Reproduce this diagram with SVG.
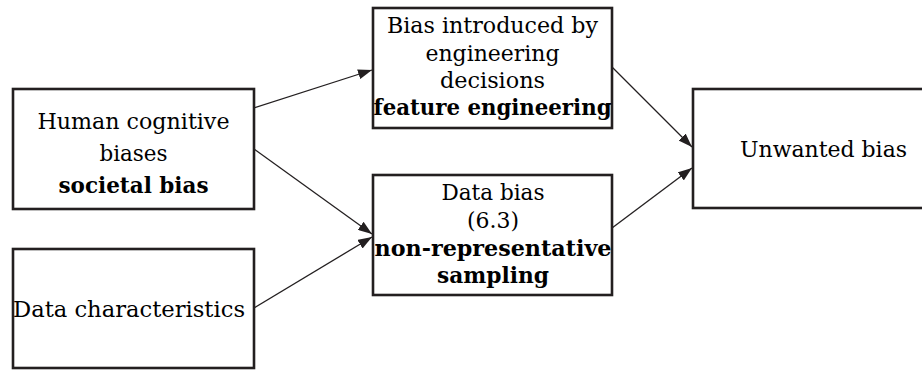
<svg xmlns="http://www.w3.org/2000/svg" width="922" height="372" viewBox="0 0 922 372">
<style>
.box{fill:#fff;stroke:#231f20;stroke-width:2.6}
.t{font-family:"DejaVu Serif Condensed","DejaVu Serif","Liberation Serif",serif;font-size:23px;fill:#000;text-anchor:middle}
.b{font-weight:bold}
.c{stroke:#231f20;stroke-width:1.3;fill:none;marker-end:url(#ah)}
</style>
<defs>
<marker id="ah" markerUnits="userSpaceOnUse" viewBox="0 0 14 10" refX="14" refY="5" markerWidth="14" markerHeight="10" orient="auto">
<path d="M0,0 L14,5 L0,10 Z" fill="#231f20"/>
</marker>
</defs>
<rect width="922" height="372" fill="#fff"/>
<g id="connectors">
<line class="c" x1="254" y1="108" x2="372" y2="70"/>
<line class="c" x1="254" y1="149" x2="372" y2="234"/>
<line class="c" x1="254" y1="308" x2="372" y2="237"/>
<line class="c" x1="612" y1="67" x2="692" y2="147"/>
<line class="c" x1="612" y1="228" x2="692" y2="168"/>
</g>
<g id="n1">
<rect class="box" x="13" y="89" width="241" height="120"/>
<text class="t" x="133.5" y="129" textLength="192" lengthAdjust="spacingAndGlyphs">Human cognitive</text>
<text class="t" x="133.5" y="161" textLength="68" lengthAdjust="spacingAndGlyphs">biases</text>
<text class="t b" x="133.5" y="193" textLength="150" lengthAdjust="spacingAndGlyphs">societal bias</text>
</g>
<g id="n2">
<rect class="box" x="373" y="8" width="239" height="120"/>
<text class="t" x="492.5" y="33" textLength="211" lengthAdjust="spacingAndGlyphs">Bias introduced by</text>
<text class="t" x="492.5" y="60.5" textLength="134" lengthAdjust="spacingAndGlyphs">engineering</text>
<text class="t" x="492.5" y="88" textLength="105" lengthAdjust="spacingAndGlyphs">decisions</text>
<text class="t b" x="492.5" y="115" textLength="238" lengthAdjust="spacingAndGlyphs">feature engineering</text>
</g>
<g id="n3">
<rect class="box" x="373" y="175" width="239" height="120"/>
<text class="t" x="493" y="200" textLength="103" lengthAdjust="spacingAndGlyphs">Data bias</text>
<text class="t" x="493" y="228" textLength="52" lengthAdjust="spacingAndGlyphs">(6.3)</text>
<text class="t b" x="493" y="256" textLength="237" lengthAdjust="spacingAndGlyphs">non-representative</text>
<text class="t b" x="493" y="283" textLength="112" lengthAdjust="spacingAndGlyphs">sampling</text>
</g>
<g id="n4">
<rect class="box" x="13" y="249" width="241" height="119"/>
<text class="t" x="129" y="317" textLength="232" lengthAdjust="spacingAndGlyphs">Data characteristics</text>
</g>
<g id="n5">
<rect class="box" x="693" y="89" width="260" height="119"/>
<text class="t" x="823.5" y="157" textLength="167" lengthAdjust="spacingAndGlyphs">Unwanted bias</text>
</g>
</svg>
